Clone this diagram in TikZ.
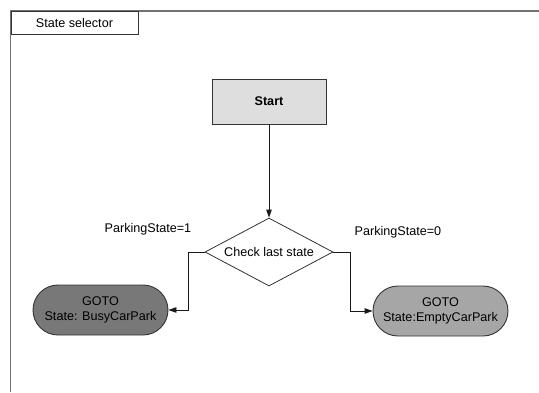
\documentclass[tikz,border=0pt]{standalone}
\usepackage{fontspec}
\setmainfont{Liberation Sans}
\usetikzlibrary{shapes.geometric,shapes.misc,arrows.meta}
\begin{document}
\begin{tikzpicture}[x=1pt,y=-1pt,
  txt/.style={font=\fontsize{12.6}{14.5}\selectfont, text=black},
  startbox/.style={draw=black!80, fill=black!13, line width=0.9pt, minimum width=114pt, minimum height=45pt, inner sep=0pt, font=\bfseries\fontsize{12.6}{14.5}\selectfont},
  decision/.style={diamond, aspect=1.88, draw=black!80, fill=white, line width=0.8pt, minimum width=128pt, minimum height=68pt, inner sep=0pt, txt},
  pill/.style={rounded rectangle, draw=black!80, line width=0.9pt, minimum width=135pt, minimum height=50pt, inner sep=0pt, align=center, txt},
  conn/.style={draw=black!90, line width=0.9pt, -{Triangle[length=8pt,width=5.5pt]}},
  lbl/.style={txt, inner sep=0pt}
]
\useasboundingbox (0,0) rectangle (539,392);
\fill[white] (0,0) rectangle (539,392);
% frame
\draw[black!55, line width=1.8pt] (10.5,392) -- (10.5,11) -- (539,11);
\node[draw=black!80, line width=0.9pt, fill=white, minimum width=127pt, minimum height=23pt, inner sep=0pt, anchor=north west, txt] (title) at (10.5,11) {State selector};
% nodes
\node[startbox] (start) at (269,101.5) {Start};
\node[decision] (check) at (269,252) {Check last state};
\node[pill, fill=black!53] (busy) at (100.5,310) {GOTO\\State: BusyCarPark};
\node[pill, fill=black!35] (empty) at (440.5,311) {GOTO\\State:EmptyCarPark};
% labels
\node[lbl] (l1) at (148,229) {ParkingState=1};
\node[lbl] (l0) at (398,232) {ParkingState=0};
% connectors
\draw[conn] (start.south) -- (check.north);
\draw[conn] (check.west) -- ++(-16,0) |- (busy.east);
\draw[conn] (check.east) -- ++(17,0) |- (empty.west);
\end{tikzpicture}
\end{document}
